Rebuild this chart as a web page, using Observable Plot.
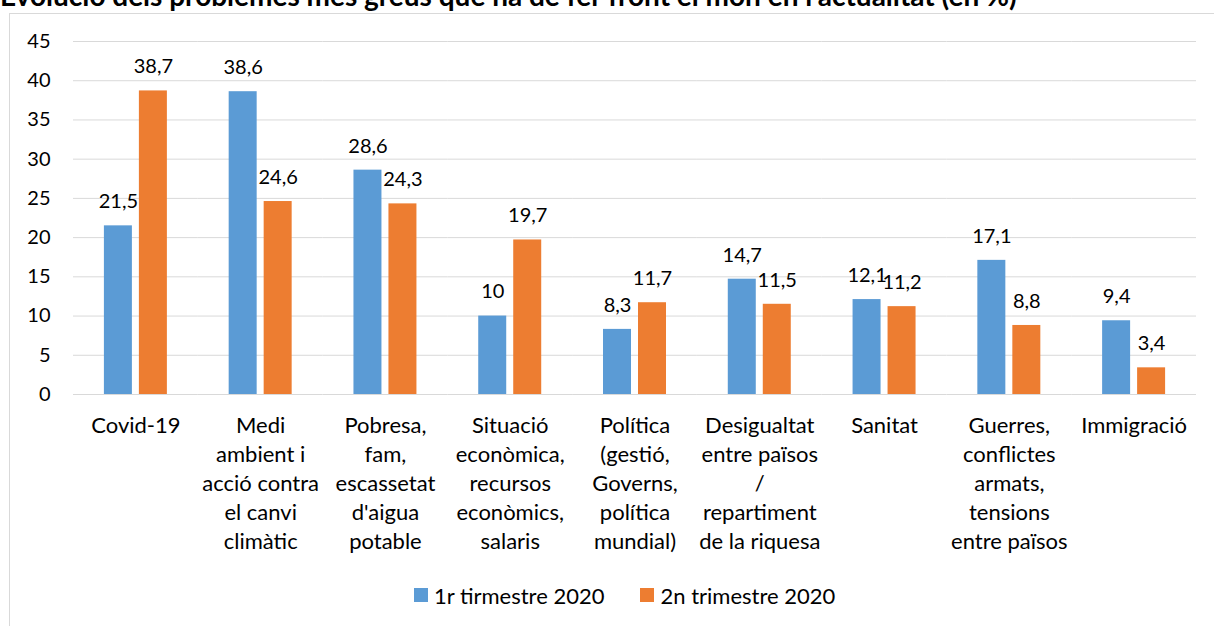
<!DOCTYPE html>
<html>
<head>
<meta charset="utf-8">
<script src="https://cdn.jsdelivr.net/npm/d3@7"></script>
<script src="https://cdn.jsdelivr.net/npm/@observablehq/plot@0.6"></script>
<style>
  html, body { margin: 0; padding: 0; background: #fff; width: 1214px; height: 626px; overflow: hidden; position: relative; font-family: Lato, "Open Sans", sans-serif; color: #000; }
  #title { position: absolute; left: 0; top: -19px; font-weight: bold; font-size: 28px; line-height: 28px; white-space: nowrap; }
  #frame { position: absolute; left: 9px; top: 13px; width: 1230px; height: 640px; border: 1px solid #d9d9d9; background: #fff; }
  #chart { position: absolute; left: 0; top: 0; }
  #legend { position: absolute; left: 414px; top: 582px; height: 26px; font-size: 22px; display: flex; align-items: center; white-space: nowrap; }
  .sw { display: inline-block; width: 14px; height: 14px; margin-right: 6px; }
  .item { display: flex; align-items: center; margin-right: 36px; }
</style>
</head>
<body>
<div id="title">Evolució dels problemes més greus que ha de fer front el món en l'actualitat (en %)</div>
<div id="frame"></div>
<div id="chart"></div>
<div id="legend"></div>
<script>
const categories = [
  "Covid-19",
  "Medi\nambient i\nacció contra\nel canvi\nclimàtic",
  "Pobresa,\nfam,\nescassetat\nd'aigua\npotable",
  "Situació\neconòmica,\nrecursos\neconòmics,\nsalaris",
  "Política\n(gestió,\nGoverns,\npolítica\nmundial)",
  "Desigualtat\nentre països\n/\nrepartiment\nde la riquesa",
  "Sanitat",
  "Guerres,\nconflictes\narmats,\ntensions\nentre països",
  "Immigració"
];
const series = ["1r tirmestre 2020", "2n trimestre 2020"];
const q1 = [21.5, 38.6, 28.6, 10, 8.3, 14.7, 12.1, 17.1, 9.4];
const q2 = [38.7, 24.6, 24.3, 19.7, 11.7, 11.5, 11.2, 8.8, 3.4];
const yTicks = [0, 5, 10, 15, 20, 25, 30, 35, 40, 45];
const colors = ["#5b9bd5", "#ed7d31"];

const fmt = v => String(v).replace(".", ",");
const data = [];
categories.forEach((c, i) => {
  data.push({cat: c, series: series[0], value: q1[i], label: fmt(q1[i])});
  data.push({cat: c, series: series[1], value: q2[i], label: fmt(q2[i])});
});

const chart = Plot.plot({
  width: 1214,
  height: 570,
  marginTop: 41,
  marginLeft: 73,
  marginRight: 18,
  marginBottom: 176,
  fx: {domain: categories, padding: 0, label: null, round: false},
  x: {domain: series, paddingInner: 0.2, paddingOuter: 0.883, axis: null, round: false},
  y: {domain: [0, 45], label: null},
  color: {domain: series, range: colors},
  style: {fontFamily: "Lato, 'Open Sans', sans-serif", fontSize: "20px", color: "#000", background: "transparent", overflow: "visible"},
  marks: [
    Plot.gridY(yTicks, {stroke: "#d9d9d9", strokeOpacity: 1, strokeWidth: 1}),
    Plot.axisY(yTicks, {tickSize: 0, tickPadding: 23, fontSize: 20, label: null}),
    Plot.axisFx({anchor: "bottom", tickSize: 0, tickPadding: 18, fontSize: 22, lineHeight: 1.32, lineAnchor: "top", label: null}),
    Plot.barY(data, {fx: "cat", x: "series", y: "value", fill: "series"}),
    Plot.text(data, {fx: "cat", x: "series", y: "value", text: "label", dy: -24, fontSize: 20, fill: "#000"})
  ]
});
document.getElementById("chart").appendChild(chart);

const legend = document.getElementById("legend");
series.forEach((s, i) => {
  const item = document.createElement("div");
  item.className = "item";
  const sw = document.createElement("span");
  sw.className = "sw";
  sw.style.background = colors[i];
  item.appendChild(sw);
  item.appendChild(document.createTextNode(s));
  legend.appendChild(item);
});
</script>
</body>
</html>
